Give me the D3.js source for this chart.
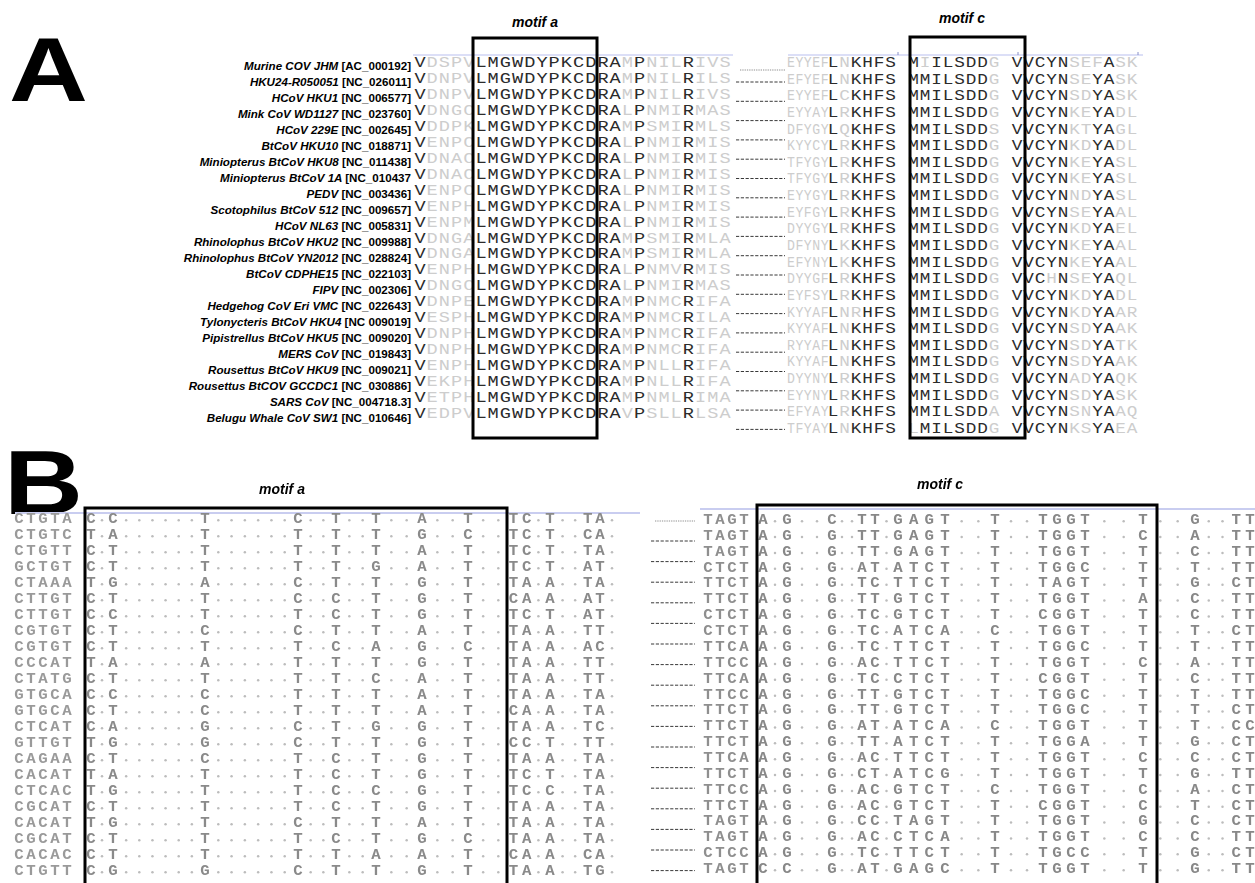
<!DOCTYPE html>
<html>
<head>
<meta charset="utf-8">
<script src="https://cdn.jsdelivr.net/npm/d3@7"></script>
<style>
  body { margin: 0; background: #fff; }
  svg { display: block; }
</style>
</head>
<body>
<div id="chart"></div>
<script>
// ---- panel A : strains and protein alignment ----
const strains = ["Murine COV  JHM", "HKU24-R050051", "HCoV HKU1", "Mink CoV WD1127", "HCoV 229E",
  "BtCoV HKU10", "Miniopterus BtCoV HKU8", "Miniopterus  BtCoV 1A", "PEDV", "Scotophilus  BtCoV 512",
  "HCoV NL63", "Rhinolophus BtCoV HKU2", "Rhinolophus BtCoV YN2012", "BtCoV CDPHE15", "FIPV",
  "Hedgehog CoV Eri VMC", "Tylonycteris BtCoV HKU4", "Pipistrellus BtCoV HKU5", "MERS CoV",
  "Rousettus BtCoV HKU9", "Rousettus BtCOV GCCDC1", "SARS CoV", "Belugu Whale CoV SW1"];
const accessions = ["[AC_000192]", "[NC_026011]", "[NC_006577]", "[NC_023760]", "[NC_002645]",
  "[NC_018871]", "[NC_011438]", "[NC_010437", "[NC_003436]", "[NC_009657]",
  "[NC_005831]", "[NC_009988]", "[NC_028824]", "[NC_022103]", "[NC_002306]",
  "[NC_022643]", "[NC 009019]", "[NC_009020]", "[NC_019843]",
  "[NC_009021]", "[NC_030886]", "[NC_004718.3]", "[NC_010646]"];

const protA = ["VDSPVLMGWDYPKCDRAMPNILRIVS", "VDNPVLMGWDYPKCDRAMPNILRILS", "VDNPVLMGWDYPKCDRAMPNILRIVS",
  "VDNGCLMGWDYPKCDRALPNMIRMAS", "VDDPKLMGWDYPKCDRAMPSMIRMLS", "VENPCLMGWDYPKCDRALPNMIRMIS",
  "VDNACLMGWDYPKCDRALPNMIRMIS", "VDNACLMGWDYPKCDRALPNMIRMIS", "VENPCLMGWDYPKCDRALPNMIRMIS",
  "VENPHLMGWDYPKCDRALPNMIRMIS", "VENPMLMGWDYPKCDRALPNMIRMIS", "VDNGALMGWDYPKCDRAMPSMIRMLA",
  "VDNGALMGWDYPKCDRAMPSMIRMLA", "VENPHLMGWDYPKCDRALPNMVRMIS", "VDNGCLMGWDYPKCDRALPNMIRMAS",
  "VDNPELMGWDYPKCDRAMPNMCRIFA", "VESPHLMGWDYPKCDRAMPNMCRILA", "VDNPHLMGWDYPKCDRAMPNMCRIFA",
  "VDNPHLMGWDYPKCDRAMPNMCRIFA", "VENPHLMGWDYPKCDRAMPNLLRIFA", "VEKPHLMGWDYPKCDRAMPNLLRIFA",
  "VETPHLMGWDYPKCDRAMPNMLRIMA", "VEDPVLMGWDYPKCDRAVPSLLRLSA"];
const consA = "V....LMGWDYPKCDRA.P...R...";

const protC = ["EYYEFLNKHFS MIILSDDG VVCYNSEFASK", "EFYEFLNKHFS MMILSDDG VVCYNSEYASK",
  "EYYEFLCKHFS MMILSDDG VVCYNSDYASK", "EYYAYLRKHFS MMILSDDG VVCYNKEYADL",
  "DFYGYLQKHFS MMILSDDS VVCYNKTYAGL", "KYYCYLRKHFS MMILSDDG VVCYNKDYADL",
  "TFYGYLRKHFS MMILSDDG VVCYNKEYASL", "TFYGYLRKHFS MMILSDDG VVCYNKEYASL",
  "EYYGYLRKHFS MMILSDDG VVCYNNDYASL", "EYFGYLRKHFS MMILSDDG VVCYNSEYAAL",
  "DYYGYLRKHFS MMILSDDG VVCYNKDYAEL", "DFYNYLKKHFS MMILSDDG VVCYNKEYAAL",
  "EFYNYLKKHFS MMILSDDG VVCYNKEYAAL", "DYYGFLRKHFS MMILSDDG VVCHNSEYAQL",
  "EYFSYLRKHFS MMILSDDG VVCYNKDYADL", "KYYAFLNRHFS MMILSDDG VVCYNKDYAAR",
  "KYYAFLNKHFS MMILSDDG VVCYNSDYAAK", "RYYAFLNKHFS MMILSDDG VVCYNSDYATK",
  "KYYAFLNKHFS MMILSDDG VVCYNSDYAAK", "DYYNYLRKHFS MMILSDDG VVCYNADYAQK",
  "EYYNYLRKHFS MMILSDDG VVCYNSDYASK", "EFYAYLRKHFS MMILSDDA VVCYNSNYAAQ",
  "TFYAYLNKHFS LMILSDDG VVCYNKSYAEA"];
const consC = ".....L.KHFS.MMILSDD..VVCYN..YA..";

// ---- panel B : nucleotide alignment (dots = identical) ----
const preNa = ["CTGTA", "CTGTC", "CTGTT", "GCTGT", "CTAAA", "CTTGT", "CTTGT", "CGTGT", "CGTGT", "CCCAT",
  "CTATG", "GTGCA", "GTGCA", "CTCAT", "GTTGT", "CAGAA", "CACAT", "CTCAC", "CGCAT", "CACAT",
  "CGCAT", "CACAC", "CTGTT"];
const ntA = ["C.C......T......C..T..T..A..T..TC.T..TA.", "T.A......T......T..T..T..G..C..TC.T..CA.",
  "C.T......T......T..T..T..A..T..TC.T..TA.", "C.T......T......T..T..G..A..T..TC.T..AT.",
  "T.G......A......C..T..T..G..T..TA.A..TA.", "C.T......T......C..C..T..G..T..CA.A..AT.",
  "C.C......T......T..C..T..G..T..TC.T..AT.", "C.T......C......C..T..T..A..T..TA.A..TT.",
  "C.T......T......T..C..A..G..C..TA.A..AC.", "T.A......A......T..T..T..G..T..TA.A..TT.",
  "C.T......T......T..T..C..A..T..TA.A..TT.", "C.C......C......T..T..T..A..T..TA.A..TA.",
  "C.T......C......T..T..T..A..T..CA.A..TA.", "C.A......G......C..T..G..G..T..TA.A..TC.",
  "T.G......G......C..T..T..G..T..CC.T..TT.", "C.T......C......T..C..T..G..T..TA.A..TA.",
  "T.A......T......T..C..T..G..T..TC.T..TA.", "T.G......T......T..C..C..G..T..TC.C..TA.",
  "C.T......T......T..C..T..G..T..TA.A..TA.", "T.G......T......C..T..T..A..T..TA.A..TA.",
  "C.T......T......T..C..T..G..C..TA.A..TA.", "C.T......T......T..T..A..A..T..CA.A..CA.",
  "C.G......G......C..T..T..G..T..TA.A..TG."];
const preNc = ["TAGT", "TAGT", "TAGT", "CTCT", "TTCT", "TTCT", "CTCT", "CTCT", "TTCA", "TTCC",
  "TTCA", "TTCC", "TTCT", "TTCT", "TTCT", "TTCA", "TTCT", "TTCC", "TTCT", "TAGT",
  "TAGT", "CTCC", "TAGT"];
const ntC = ["A.G..C..TT.GAGT..T..TGGT..T..G..TT", "A.G..G..TT.GAGT..T..TGGT..C..A..TT",
  "A.G..G..TT.GAGT..T..TGGT..T..C..TT", "A.G..G..AT.ATCT..T..TGGC..T..T..TT",
  "A.G..G..TC.TTCT..T..TAGT..T..G..CT", "A.G..G..TT.GTCT..T..TGGT..A..C..TT",
  "A.G..G..TC.GTCT..T..CGGT..T..C..TT", "A.G..G..TC.ATCA..C..TGGT..T..T..CT",
  "A.G..G..TC.TTCT..T..TGGC..T..T..TT", "A.G..G..AC.TTCT..T..TGGT..C..A..TT",
  "A.G..G..TC.CTCT..T..CGGT..T..C..TT", "A.G..G..TT.GTCT..T..TGGC..T..T..TT",
  "A.G..G..TT.GTCT..T..TGGC..T..T..CT", "A.G..G..AT.ATCA..C..TGGT..T..T..CC",
  "A.G..G..TT.ATCT..T..TGGA..T..G..CT", "A.G..G..AC.TTCT..T..TGGT..C..C..CT",
  "A.G..G..CT.ATCG..T..TGGT..T..G..TT", "A.G..G..AC.GTCT..C..TGGT..C..A..CT",
  "A.G..G..AC.GTCT..T..CGGT..C..T..CT", "A.G..G..CC.TAGT..T..TGGT..G..C..CT",
  "A.G..G..AC.CTCA..T..TGGT..C..C..TT", "A.G..G..TC.TTCT..T..TGCC..T..G..CT",
  "C.C..G..AT.GAGC..T..TGGT..T..G..TT"];

const W = 1255, H = 883;
const svg = d3.select("#chart").append("svg").attr("width", W).attr("height", H);
svg.append("rect").attr("width", W).attr("height", H).attr("fill", "#fff");
svg.append("defs").append("filter").attr("id", "blur")
  .attr("x", "-20%").attr("y", "-20%").attr("width", "140%").attr("height", "140%")
  .append("feGaussianBlur").attr("stdDeviation", 0.7);

const mono = "'Liberation Mono', 'DejaVu Sans Mono', monospace";
const sans = "'Liberation Sans', Arial, sans-serif";

// draws one block of residues, one text per character
function drawBlock(g, rows, x, y, style) {
  rows.forEach((row, r) => {
    row.split("").forEach((ch, c) => {
      if (ch === " ") return;
      if (ch === "." && style.dot) {
        g.append("circle").attr("cx", x(c)).attr("cy", y(r) - 2.8)
          .attr("r", 1.25).attr("fill", style.dot);
        return;
      }
      g.append("text")
        .attr("transform", `translate(${x(c)},${y(r)}) scale(${style.sx(c)},1)`)
        .attr("text-anchor", "middle")
        .attr("font-family", mono)
        .attr("font-size", style.size(c))
        .attr("font-weight", style.weight || "normal")
        .attr("fill", style.color(ch, r, c))
        .text(ch);
    });
  });
}

function dashes(g, x0, x1, ys, fine) {
  g.selectAll(null).data(ys).join("line")
    .attr("x1", x0).attr("x2", x1).attr("y1", d => d).attr("y2", d => d)
    .attr("stroke", "#222").attr("stroke-width", 0.9).attr("stroke-dasharray", "3.2,1.6");
  g.append("line").attr("x1", x0 + 4).attr("x2", x1).attr("y1", fine).attr("y2", fine)
    .attr("stroke", "#444").attr("stroke-width", 0.6).attr("stroke-dasharray", "1.3,1");
}

function box(g, x0, x1, y0, y1) {
  g.append("rect").attr("x", x0).attr("y", y0).attr("width", x1 - x0).attr("height", y1 - y0)
    .attr("fill", "none").attr("stroke", "#000").attr("stroke-width", 3);
}

function motif(g, x, y, txt) {
  g.append("text").attr("x", x).attr("y", y).attr("text-anchor", "middle").attr("font-family", sans)
    .attr("font-size", 14).attr("font-weight", "bold").attr("font-style", "italic").text(txt);
}

// ================= Panel A =================
const gA = svg.append("g");
gA.append("text").attr("transform", "translate(9,101) scale(1.2,1)").attr("font-family", sans)
  .attr("font-weight", "bold").attr("font-size", 91).attr("fill", "#000").text("A");

const yLab = d3.scaleLinear().domain([0, strains.length - 1]).range([70, 422]);
const labels = gA.append("g").attr("font-family", sans).attr("font-size", 11.6).attr("font-weight", "bold")
  .attr("fill", "#000").attr("text-anchor", "end");
strains.forEach((s, i) => {
  const t = labels.append("text").attr("x", 411).attr("y", yLab(i));
  t.append("tspan").attr("font-style", "italic").text(s + " ");
  t.append("tspan").text(accessions[i]);
});

// ruler lines
gA.append("line").attr("x1", 413).attr("x2", 733).attr("y1", 55).attr("y2", 55)
  .attr("stroke", "#b9bff0").attr("stroke-width", 1.2);
gA.append("line").attr("x1", 788).attr("x2", 1143).attr("y1", 55).attr("y2", 55)
  .attr("stroke", "#b9bff0").attr("stroke-width", 1.2);
[898, 1018, 1138].forEach(t => gA.append("line").attr("x1", t).attr("x2", t).attr("y1", 52).attr("y2", 55)
  .attr("stroke", "#8890c8").attr("stroke-width", 1));

const xAl = d3.scaleLinear().domain([0, consA.length - 1]).range([420, 725]);
const yAl = d3.scaleLinear().domain([0, protA.length - 1]).range([67, 418]);
drawBlock(gA, protA, xAl, yAl, {
  sx: () => 1.2, size: () => 15.5,
  color: (ch, r, c) => consA[c] === ch ? "#2b2b2b" : "#cdcdcd"
});

const xCl = d3.scaleLinear().domain([0, 5, consC.length - 1]).range([791, 833, 1132]);
const yCl = d3.scaleLinear().domain([0, protC.length - 1]).range([67, 433]);
drawBlock(gA, protC, xCl, yCl, {
  sx: c => c < 5 ? 0.85 : 1.14, size: () => 15.5,
  color: (ch, r, c) => consC[c] === ch ? "#2b2b2b" : "#cdcdcd"
});

dashes(gA, 736, 785, d3.range(19).map(i => 82 + i * 19.3), 70);
box(gA, 473, 597, 38, 438);
box(gA, 910, 1025, 37, 438);
motif(gA, 535, 27, "motif a");
motif(gA, 962, 23, "motif c");

// ================= Panel B =================
const gB = svg.append("g");
gB.append("text").attr("transform", "translate(4,514) scale(1.2,1)").attr("font-family", sans)
  .attr("font-weight", "bold").attr("font-size", 91).attr("fill", "#000").text("B");

const gBs = gB.append("g").attr("filter", "url(#blur)");
gBs.append("line").attr("x1", 15).attr("x2", 640).attr("y1", 513).attr("y2", 513)
  .attr("stroke", "#c9cdf0").attr("stroke-width", 2);
gBs.append("line").attr("x1", 700).attr("x2", 1255).attr("y1", 509).attr("y2", 509)
  .attr("stroke", "#c9cdf0").attr("stroke-width", 2);

const yNa = d3.scaleLinear().domain([0, ntA.length - 1]).range([523, 875]);
const xPa = d3.scaleLinear().domain([0, 4]).range([19, 67]);
drawBlock(gBs, preNa, xPa, yNa, {
  sx: () => 1.05, size: () => 15, weight: "bold", color: () => "#9a9a9a"
});
const xNa = d3.scaleLinear()
  .domain([0, 2, 9, 16, 19, 22, 25, 28, 31.5, 34, 37.5, 39])
  .range([91, 113, 205, 298, 336, 376, 422, 468, 521, 550, 594, 612]);
drawBlock(gBs, ntA, xNa, yNa, {
  sx: () => 1.05, size: () => 15, weight: "bold", dot: "#bcbcbc", color: () => "#8a8a8a"
});

const yNc = d3.scaleLinear().domain([0, ntC.length - 1]).range([524, 873]);
const xPc = d3.scaleLinear().domain([0, 3]).range([708, 744]);
drawBlock(gBs, preNc, xPc, yNc, {
  sx: () => 1.05, size: () => 15, weight: "bold", color: () => "#8f8f8f"
});
const xNc = d3.scaleLinear()
  .domain([0, 2, 5, 8, 9, 11, 14, 17, 20, 23, 26, 29, 33])
  .range([763, 787, 832, 862, 875, 898, 945, 995, 1043, 1085, 1143, 1195, 1250]);
drawBlock(gBs, ntC, xNc, yNc, {
  sx: () => 1.05, size: () => 15, weight: "bold", dot: "#bcbcbc", color: () => "#888"
});

dashes(gB, 651, 695, d3.range(17).map(i => 541 + i * 20.6), 521);
box(gB, 85, 507, 508, 900);
box(gB, 757, 1157, 505, 900);
motif(gB, 282, 494, "motif a");
motif(gB, 940, 489, "motif c");
</script>
</body>
</html>
